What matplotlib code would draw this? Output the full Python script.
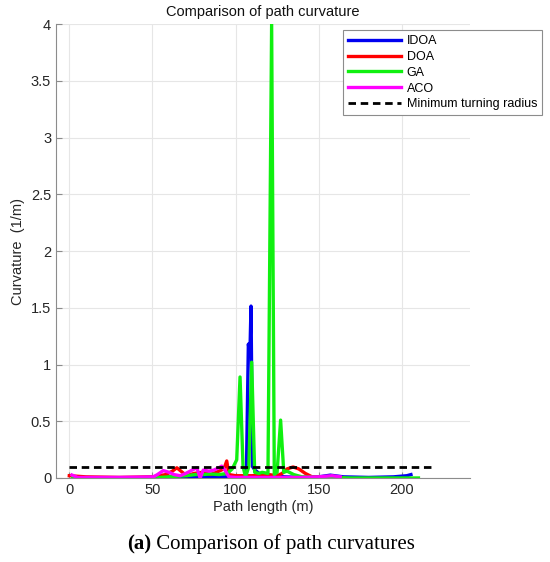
import matplotlib
matplotlib.use("Agg")
import matplotlib.pyplot as plt
import numpy as np

# values
idoa_x = [2, 10, 30, 50, 60, 70, 80, 90, 100, 105, 106.5, 107.7, 108.3, 108.8, 109.3,
          110.2, 111.7, 115, 120, 130, 140, 150, 157, 165, 180, 195, 203, 205.5]
idoa_y = [0.005, 0.0, 0.0, 0.005, 0.01, 0.01, 0.015, 0.01, 0.01, 0.01, 0.02, 1.18, 1.12,
          1.2, 1.515, 0.1, 0.07, 0.03, 0.02, 0.01, 0.005, 0.01, 0.025, 0.01, 0.005, 0.01,
          0.02, 0.03]

doa_x = [0, 10, 30, 50, 58, 62, 64.7, 68, 70.7, 75, 80, 85, 90, 93, 94.7, 96, 100, 110,
         120, 125, 128, 131, 134.6, 138, 142, 146, 155, 165]
doa_y = [0.02, 0.01, 0.005, 0.01, 0.03, 0.06, 0.09, 0.05, 0.02, 0.04, 0.05, 0.03, 0.06,
         0.08, 0.15, 0.03, 0.02, 0.02, 0.03, 0.02, 0.04, 0.08, 0.097, 0.08, 0.04, 0.01,
         0.005, 0.0]

ga_x = [2, 30, 50, 60, 70, 76, 80, 85, 90, 95, 98, 100.7, 102.7, 104.5, 106, 108, 109.7,
        111.5, 114, 116, 119.5, 121.7, 123.3, 125, 127.1, 129, 131, 135, 140, 150, 170,
        190, 210]
ga_y = [0.0, 0.0, 0.0, 0.01, 0.02, 0.03, 0.03, 0.035, 0.03, 0.04, 0.08, 0.16, 0.89, 0.1,
        0.01, 0.1, 1.02, 0.05, 0.04, 0.05, 0.04, 4.0, 0.03, 0.05, 0.51, 0.05, 0.06, 0.03,
        0.01, 0.005, 0.0, 0.0, 0.0]

aco_x = [1.6, 5, 15, 30, 45, 50.6, 53, 56.5, 60, 63, 66.7, 70, 74, 76.7, 78.7, 80.6, 84,
         87, 90, 91.7, 94, 96, 100, 110, 120, 130, 140, 150, 158, 163]
aco_y = [0.026, 0.005, 0.005, 0.005, 0.008, 0.01, 0.03, 0.065, 0.05, 0.03, 0.02, 0.04,
         0.07, 0.09, 0.0, 0.07, 0.06, 0.07, 0.09, 0.105, 0.06, 0.01, 0.005, 0.005, 0.005,
         0.005, 0.005, 0.01, 0.02, 0.01]

min_radius_x = [0, 218]
min_radius_y = [0.1, 0.1]

plt.rcParams['font.family'] = ['Liberation Sans', 'DejaVu Sans']

fig = plt.figure(figsize=(5.5, 5.62), dpi=100)
ax = fig.add_axes([0.1018, 0.1495, 0.7527, 0.8075])

ax.plot(idoa_x, idoa_y, color='#0000f0', lw=2.4, label='IDOA')
ax.plot(doa_x, doa_y, color='#ff0000', lw=2.4, label='DOA')
ax.plot(ga_x, ga_y, color='#10f010', lw=2.4, label='GA')
ax.plot(aco_x, aco_y, color='#ff00ff', lw=2.4, label='ACO')
ax.plot(min_radius_x, min_radius_y, color='black', lw=2, ls=(0, (2.7, 1.7)),
        label='Minimum turning radius')

ax.set_xlim(-8, 241)
ax.set_ylim(0, 4)
ax.set_xticks([0, 50, 100, 150, 200])
ax.set_yticks([0, 0.5, 1, 1.5, 2, 2.5, 3, 3.5, 4])
ax.set_yticklabels(['0', '0.5', '1', '1.5', '2', '2.5', '3', '3.5', '4'])
ax.grid(True, color='#e6e6e6', lw=0.8)
ax.set_axisbelow(True)
for s in ['top', 'right']:
    ax.spines[s].set_visible(False)
for s in ['left', 'bottom']:
    ax.spines[s].set_color('#8c8c8c')
ax.tick_params(direction='in', length=4, color='#8c8c8c', labelsize=10.5,
               labelcolor='#262626')

ax.set_title('Comparison of path curvature', fontsize=10.5, color='#111111', pad=6)
ax.set_xlabel('Path length (m)', fontsize=10.5, color='#262626', labelpad=2)
ax.set_ylabel('Curvature  (1/m)', fontsize=10.5, color='#262626', labelpad=4)

leg = fig.legend(loc='upper right', bbox_to_anchor=(0.986, 0.946), fontsize=9,
                 handlelength=4.2, fancybox=False, framealpha=1, borderpad=0.4,
                 labelspacing=0.3, handletextpad=0.5, borderaxespad=0)
leg.get_frame().set_edgecolor('#8c8c8c')
leg.get_frame().set_linewidth(0.8)

t1 = fig.text(0.231, 0.023, '(a)', fontsize=15, fontweight='bold',
              family='Liberation Serif', va='baseline')
plt.annotate(' Comparison of path curvatures', xy=(1, 0), xycoords=t1,
             fontsize=15, family='Liberation Serif', va='bottom')

fig.savefig('out.png', dpi=100)
